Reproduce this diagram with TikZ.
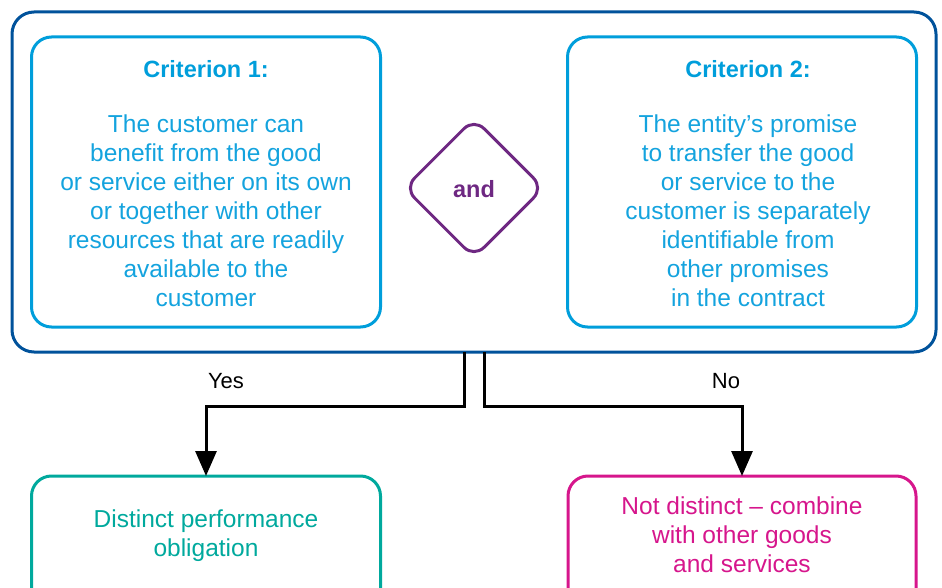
\documentclass[tikz,border=0pt]{standalone}
\usepackage{fontspec}
\setmainfont{Liberation Sans}
\usetikzlibrary{shapes.geometric,arrows.meta}
\definecolor{outerblue}{RGB}{0,82,155}
\definecolor{critblue}{RGB}{0,158,219}
\definecolor{crittext}{RGB}{20,163,222}
\definecolor{andpurple}{RGB}{110,40,130}
\definecolor{okteal}{RGB}{0,169,157}
\definecolor{nomagenta}{RGB}{214,22,140}
\tikzset{
  box/.style={draw, rectangle, rounded corners=20pt, line width=3pt, inner sep=0pt, outer sep=0pt},
  bodytext/.style={align=center, inner sep=0pt, font=\fontsize{24.5}{29}\selectfont},
  titletext/.style={align=center, inner sep=0pt, font=\fontsize{23.5}{29}\selectfont\bfseries},
  conn/.style={draw=black, line width=3pt},
  arr/.style={conn, -{Triangle[width=21pt,length=25pt]}},
  lbl/.style={inner sep=0pt, font=\fontsize{22}{29}\selectfont, text=black}
}
\begin{document}
\begin{tikzpicture}[x=1pt,y=-1pt]
\useasboundingbox (0,0) rectangle (942,588);
\clip (0,0) rectangle (942,588);
% outer frame
\node[box, draw=outerblue, rounded corners=22pt, minimum width=924pt, minimum height=340pt] (outer) at (474,182) {};
% criteria boxes
\node[box, draw=critblue, minimum width=349pt, minimum height=290pt] (c1) at (206,182) {};
\node[box, draw=critblue, minimum width=349pt, minimum height=290pt] (c2) at (742,182) {};
\node[titletext, text=critblue] (t1) at (206,69) {Criterion 1:};
\node[titletext, text=critblue] (t2) at (748,69) {Criterion 2:};
\node[bodytext, text=crittext] (b1) at (206,211) {The customer can\\benefit from the good\\or service either on its own\\or together with other\\resources that are readily\\available to the\\customer};
\node[bodytext, text=crittext] (b2) at (748,211) {The entity’s promise\\to transfer the good\\or service to the\\customer is separately\\identifiable from\\other promises\\in the contract};
% and diamond
\node[diamond, draw=andpurple, line width=3pt, rounded corners=14pt, minimum width=140pt, minimum height=140pt, inner sep=0pt] (and) at (474,188) {};
\node[titletext, text=andpurple] (andt) at (474,189) {and};
% outcome boxes
\node[box, draw=okteal, minimum width=349pt, minimum height=160pt] (dpo) at (206,556) {};
\node[box, draw=nomagenta, minimum width=348pt, minimum height=160pt] (nd) at (742,556) {};
\node[bodytext, text=okteal] (dpot) at (206,536) {Distinct performance\\obligation};
\node[bodytext, text=nomagenta] (ndt) at (742,535) {Not distinct – combine\\with other goods\\and services};
% connectors
\coordinate (yesstart) at ([xshift=-10pt]outer.south);
\coordinate (nostart) at ([xshift=10pt]outer.south);
\draw[arr] (yesstart) -- ++(0,54) -| (dpo.north);
\draw[arr] (nostart) -- ++(0,54) -| (nd.north);
\node[lbl] (yes) at (226,381) {Yes};
\node[lbl] (no) at (726,381) {No};
\end{tikzpicture}
\end{document}
